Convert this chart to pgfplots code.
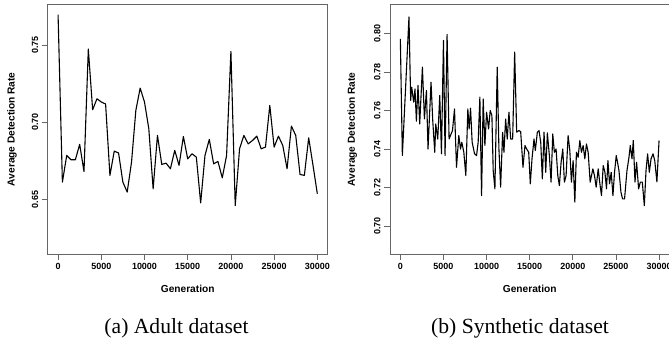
\documentclass[border=0pt]{standalone}
\usepackage{pgfplots}
\pgfplotsset{compat=1.18}
\usepackage{fontspec}
\setmainfont{Liberation Serif}
\newfontfamily\hel{Liberation Sans}

\pgfplotstableread{
gen rate
0 0.7695
500 0.6611
1000 0.6784
1500 0.6756
2000 0.6756
2500 0.6856
3000 0.6680
3500 0.7473
4000 0.7080
4500 0.7151
5000 0.7130
5500 0.7117
6000 0.6655
6500 0.6812
7000 0.6800
7500 0.6611
8000 0.6547
8500 0.6741
9000 0.7076
9500 0.7220
10000 0.7130
10500 0.6957
11000 0.6568
11500 0.6914
12000 0.6726
12500 0.6734
13000 0.6698
13500 0.6817
14000 0.6720
14500 0.6907
15000 0.6762
15500 0.6795
16000 0.6773
16500 0.6477
17000 0.6784
17500 0.6888
18000 0.6730
18500 0.6745
19000 0.6639
19500 0.6784
20000 0.7458
20500 0.6460
21000 0.6827
21500 0.6914
22000 0.6859
22500 0.6881
23000 0.6909
23500 0.6827
24000 0.6838
24500 0.7108
25000 0.6838
25500 0.6909
26000 0.6849
26500 0.6698
27000 0.6974
27500 0.6914
28000 0.6661
28500 0.6655
29000 0.6898
29500 0.6720
30000 0.6536
}\adult

\pgfplotstableread{
gen rate
0 0.7972
233 0.7366
1000 0.8085
1198 0.7652
1314 0.7721
1547 0.7643
1698 0.7712
1860 0.7544
2047 0.7730
2244 0.7530
2558 0.7825
2791 0.7556
3023 0.7704
3209 0.7400
3558 0.7747
3756 0.7548
3988 0.7383
4105 0.7530
4337 0.7452
4570 0.7678
4767 0.7375
5000 0.7964
5186 0.7366
5419 0.7995
5651 0.7452
6047 0.7496
6279 0.7608
6512 0.7305
6779 0.7470
6977 0.7400
7128 0.7435
7360 0.7383
7593 0.7262
7826 0.7608
7977 0.7504
8140 0.7612
8326 0.7435
8605 0.7375
8837 0.7366
9023 0.7435
9221 0.7669
9419 0.7158
9605 0.7660
9802 0.7418
10000 0.7591
10233 0.7504
10419 0.7600
10616 0.7574
10767 0.7288
10965 0.7193
11233 0.7825
11430 0.7400
11628 0.7202
11860 0.7487
12012 0.7383
12209 0.7556
12395 0.7452
12593 0.7591
12791 0.7452
13023 0.7452
13256 0.7903
13488 0.7487
13756 0.7496
13953 0.7490
14221 0.7305
14453 0.7418
14651 0.7400
14884 0.7383
15070 0.7219
15267 0.7349
15500 0.7452
15651 0.7392
15884 0.7487
16081 0.7496
16279 0.7435
16465 0.7245
16663 0.7487
16860 0.7279
17047 0.7484
17279 0.7366
17477 0.7228
17674 0.7478
17860 0.7383
18058 0.7400
18256 0.7262
18442 0.7210
18640 0.7331
18837 0.7400
19023 0.7228
19221 0.7262
19453 0.7470
19651 0.7392
19837 0.7228
20035 0.7340
20233 0.7124
20419 0.7383
20616 0.7357
20814 0.7444
21000 0.7383
21198 0.7418
21395 0.7349
21581 0.7426
21779 0.7383
22012 0.7228
22326 0.7297
22512 0.7262
22709 0.7202
22942 0.7297
23140 0.7219
23326 0.7158
23523 0.7314
23721 0.7279
23907 0.7193
24070 0.7340
24256 0.7219
24453 0.7279
24651 0.7158
24837 0.7279
25035 0.7366
25186 0.7331
25349 0.7288
25581 0.7176
25767 0.7141
26000 0.7141
26279 0.7288
26512 0.7357
26663 0.7418
26860 0.7349
27012 0.7444
27209 0.7228
27395 0.7331
27628 0.7193
27826 0.7228
28058 0.7228
28291 0.7106
28488 0.7288
28674 0.7375
28872 0.7279
29070 0.7349
29302 0.7375
29500 0.7340
29750 0.7229
30000 0.7444
}\synth

\begin{document}
\begin{tikzpicture}
\path[use as bounding box] (0,0) rectangle (669bp,343bp);
\pgfplotsset{
  myax/.style={
    scale only axis, height=249.3bp, anchor=south west,
    axis line style={black!60, line width=0.7bp},
    tick style={black!60, line width=0.7bp},
    tick align=outside, major tick length=6bp,
    xtick pos=left, ytick pos=left,
    xmin=-1200, xmax=31200,
    xtick={0,5000,10000,15000,20000,25000,30000},
    scaled x ticks=false, scaled y ticks=false,
    ticklabel style={font=\hel\bfseries\fontsize{9}{10}\selectfont},
    /pgf/number format/assume math mode=true,
    /pgf/number format/1000 sep={},
    yticklabel style={rotate=90, anchor=south, /pgf/number format/.cd, fixed, fixed zerofill, precision=2},
    xlabel={Generation}, ylabel={Average Detection Rate},
    label style={font=\hel\bfseries\fontsize{10.2}{12}\selectfont},
    xlabel style={at={(rel axis cs:0.5,-0.1404)}, anchor=center},
  }
}
\begin{axis}[myax, at={(47.7bp,89bp)}, width=280bp,
  ymin=0.6146, ymax=0.776, ytick={0.65,0.70,0.75},
  ylabel style={at={(rel axis cs:-0.1275,0.5)}, anchor=center}]
\addplot[black, no markers, line width=1.1bp, line join=round] table[x=gen,y=rate] {\adult};
\end{axis}
\begin{axis}[myax, at={(390bp,89bp)}, width=279.4bp,
  ymin=0.6855, ymax=0.8149, ytick={0.70,0.72,0.74,0.76,0.78,0.80},
  ylabel style={at={(rel axis cs:-0.1349,0.5)}, anchor=center}]
\addplot[black, no markers, line width=1.1bp, line join=round] table[x=gen,y=rate] {\synth};
\end{axis}
\node[anchor=base, font=\fontsize{21.7}{24}\selectfont] at (176.5bp,9.5bp) {(a) Adult dataset};
\node[anchor=base, font=\fontsize{21.7}{24}\selectfont] at (520bp,9.5bp) {(b) Synthetic dataset};
\end{tikzpicture}
\end{document}
